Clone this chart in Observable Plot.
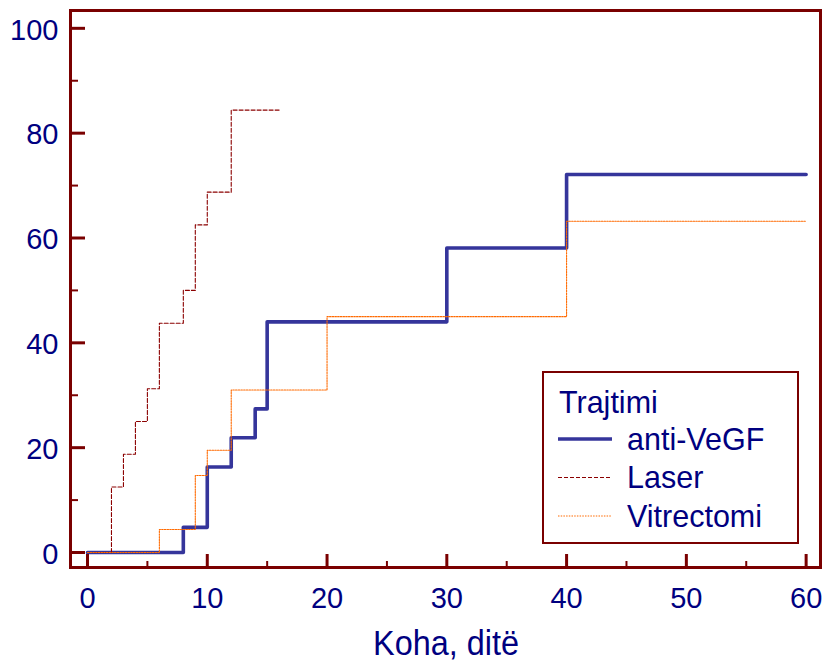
<!DOCTYPE html>
<html>
<head>
<meta charset="utf-8">
<script src="https://cdn.jsdelivr.net/npm/d3@7"></script>
<script src="https://cdn.jsdelivr.net/npm/@observablehq/plot@0.6"></script>
<style>
  body { margin: 0; background: #fff; }
</style>
</head>
<body>
<div id="chart"></div>
<script>
// Kaplan–Meier style cumulative curves by treatment (Trajtimi)
const seriesNames = ["anti-VeGF", "Laser", "Vitrectomi"];

const antiTime  = [0, 8, 10, 12, 14, 15, 30, 40, 60];
const antiValue = [0, 4.8, 16.3, 21.9, 27.4, 44, 58.1, 72.1, 72.1];

const laserTime  = [0, 2, 3, 4, 5, 6, 8, 9, 10, 12, 16];
const laserValue = [0, 12.5, 18.75, 25, 31.25, 43.75, 50, 62.5, 68.75, 84.4, 84.4];

const vitTime  = [0, 6, 9, 10, 12, 20, 40, 60];
const vitValue = [0, 4.4, 14.7, 19.5, 31, 45, 63.2, 63.2];

const xMajor = [0, 10, 20, 30, 40, 50, 60];
const xMinor = [5, 15, 25, 35, 45, 55];
const yMajor = [0, 20, 40, 60, 80, 100];
const yMinor = [10, 30, 50, 70, 90];

const xLabel = "Koha, ditë";
const legendTitle = "Trajtimi";

const toRows = (name, ts, vs) => ts.map((t, i) => ({series: name, t, v: vs[i]}));
const antiRows  = toRows(seriesNames[0], antiTime, antiValue);
const laserRows = toRows(seriesNames[1], laserTime, laserValue);
const vitRows   = toRows(seriesNames[2], vitTime, vitValue);

const W = 825, H = 662;
const mL = 70, mR = 5, mT = 10, mB = 95;
const innerW = W - mL - mR, innerH = H - mT - mB;

const frameColor = "#7a0000";
const textColor = "#000080";
const styles = {
  "anti-VeGF":  {stroke: "#35359b", strokeWidth: 3.6, dash: null},
  "Laser":      {stroke: "#8b0000", strokeWidth: 1.1, dash: "4,2"},
  "Vitrectomi": {stroke: "#ff6a00", strokeWidth: 1.1, dash: "1.5,1.2"}
};

const line = (rows, name) => Plot.line(rows, {
  x: "t", y: "v", curve: "step-after",
  stroke: styles[name].stroke,
  strokeWidth: styles[name].strokeWidth,
  strokeDasharray: styles[name].dash
});

const chart = Plot.plot({
  width: W, height: H,
  marginLeft: mL, marginRight: mR, marginTop: mT, marginBottom: mB,
  style: {fontFamily: "'Liberation Sans', Arial, sans-serif", background: "#fff"},
  x: {domain: [-1.42, 61.2]},
  y: {domain: [-2.86, 103.4]},
  marks: [
    Plot.axisY({ticks: yMajor, tickSize: 0, tickPadding: 12, fontSize: 29, fill: textColor, label: null, dy: 2}),
    Plot.axisX({ticks: xMajor, tickSize: 0, tickPadding: 20, fontSize: 29, fill: textColor, label: null}),
    line(antiRows, "anti-VeGF"),
    line(laserRows, "Laser"),
    line(vitRows, "Vitrectomi"),
    // inward ticks on the left and bottom edges
    Plot.tickY(yMajor, {y: d => d, stroke: frameColor, strokeWidth: 3, insetRight: innerW - 15}),
    Plot.tickY(yMinor, {y: d => d, stroke: frameColor, strokeWidth: 2, insetRight: innerW - 8}),
    Plot.tickX(xMajor, {x: d => d, stroke: frameColor, strokeWidth: 3, insetTop: innerH - 13}),
    Plot.tickX(xMinor, {x: d => d, stroke: frameColor, strokeWidth: 2, insetTop: innerH - 6}),
    Plot.frame({stroke: frameColor, strokeWidth: 3})
  ]
});

document.getElementById("chart").appendChild(chart);

const svg = d3.select(chart);
const font = "'Liberation Sans', Arial, sans-serif";

// x-axis title
svg.append("text")
  .attr("transform", `translate(446, 655) scale(0.9, 1)`)
  .attr("text-anchor", "middle")
  .attr("font-family", font)
  .attr("font-size", 36)
  .attr("fill", textColor)
  .text(xLabel);

// legend
const lg = svg.append("g")
  .attr("font-family", font).attr("font-size", 30.5)
  .attr("fill", textColor).attr("text-anchor", "start");
lg.append("rect")
  .attr("x", 543).attr("y", 372).attr("width", 255).attr("height", 171)
  .attr("fill", "#fff").attr("stroke", frameColor).attr("stroke-width", 2);
lg.append("text").attr("x", 559).attr("y", 413).text(legendTitle);
seriesNames.forEach((name, i) => {
  const y = 439 + i * 38.5;
  const s = styles[name];
  lg.append("line")
    .attr("x1", 558).attr("x2", 612).attr("y1", y).attr("y2", y)
    .attr("stroke", s.stroke).attr("stroke-width", s.strokeWidth)
    .attr("stroke-dasharray", s.dash);
  lg.append("text").attr("x", 627).attr("y", y).attr("dy", "0.36em").text(name);
});
</script>
</body>
</html>
